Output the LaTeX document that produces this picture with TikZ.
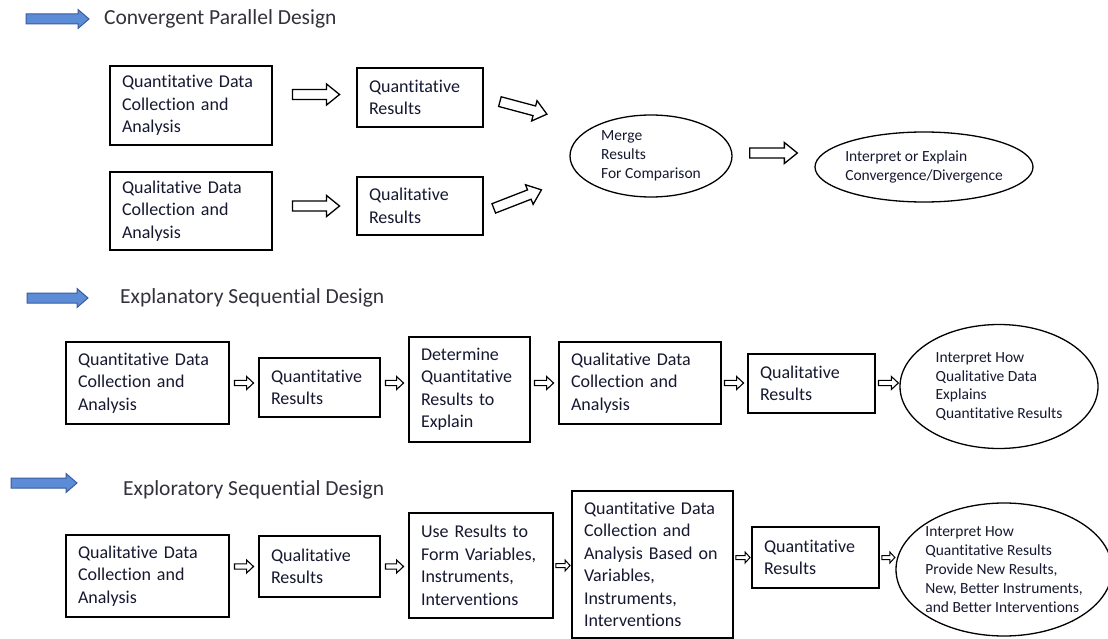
\documentclass[tikz,border=0pt]{standalone}
\usepackage{fontspec}
\setmainfont{Carlito}[Ligatures=NoCommon]
\usetikzlibrary{calc,shapes.geometric}

\definecolor{ink}{RGB}{22,24,48}
\definecolor{headink}{RGB}{50,50,60}
\definecolor{iconfill}{RGB}{92,140,214}
\definecolor{icondraw}{RGB}{58,92,158}

\newcommand{\boxfont}{\fontsize{18}{22.5}\selectfont}
\newcommand{\ovalfont}{\fontsize{15.5}{18.8}\selectfont}
\newcommand{\headfont}{\fontsize{21.5}{26}\selectfont}

\tikzset{
  hgapa/.store in=\hgapa, hgapb/.store in=\hgapb,
  hshaft/.store in=\hshaft, hwing/.store in=\hwing, hhead/.store in=\hhead,
  hgapa=16pt, hgapb=16pt, hshaft=5pt, hwing=10.5pt, hhead=13pt,
  hollow/.style={draw=black, fill=white, line width=1.3pt, line join=miter,
    to path={coordinate (hs0) (\tikztotarget) coordinate (ht0)
      ($(hs0)!\hgapa!(ht0)$) coordinate (hs)
      ($(ht0)!\hgapb!(hs0)$) coordinate (ht)
      ($(ht)!\hhead!(hs)$) coordinate (hn)
      ($(hs)!\hshaft!90:(ht)$) -- ($(hn)!\hshaft!90:(ht)$) -- ($(hn)!\hwing!90:(ht)$) -- (ht)
      -- ($(hn)!\hwing!-90:(ht)$) -- ($(hn)!\hshaft!-90:(ht)$) -- ($(hs)!\hshaft!-90:(ht)$) -- cycle}},
  smallarrow/.style={hollow, line width=1.1pt, hgapa=4pt, hgapb=4pt, hshaft=2.6pt, hwing=6.5pt, hhead=7pt},
  thinarrow/.style={hollow, line width=1pt, hgapa=1.5pt, hgapb=0.5pt, hshaft=2pt, hwing=5.5pt, hhead=5pt},
  iconarrow/.style={hollow, draw=icondraw, fill=iconfill, line width=1pt, hgapa=0pt, hgapb=0pt, hshaft=5pt, hwing=9.5pt, hhead=11pt},
  boxsize/.code 2 args={\pgfmathsetlengthmacro\boxtw{#1-24pt}%
    \pgfkeysalso{minimum width=#1, minimum height=#2, text width/.expanded=\boxtw}},
  stepbox/.style={draw=black, line width=2.9pt, rectangle, inner xsep=12pt, inner ysep=0pt, align=left, text=ink, font=\boxfont},
  oval/.style={ellipse, draw=black, line width=1.3pt, inner sep=0pt, align=left, text=ink, font=\ovalfont},
  headtext/.style={anchor=west, inner sep=0pt, text=headink, font=\headfont}
}

\begin{document}
\begin{tikzpicture}[x=1pt,y=1pt,yscale=-1,xscale=1]
\path[use as bounding box, fill=white] (0,0) rectangle (1108,639);

% Convergent Parallel Design
%Shape: Right Arrow
\draw[iconarrow] (26,19) to (89,19);
% Text Node
\draw (104,19) node [headtext] (h1) {Convergent Parallel Design};
%Shape: Rectangle
\draw (191,105.5) node [stepbox, boxsize={162pt}{79pt}] (a1) {Quantitative Data\\Collection and\\Analysis};
%Shape: Rectangle
\draw (191,211) node [stepbox, boxsize={162pt}{78pt}] (b1) {Qualitative Data\\Collection and\\Analysis};
%Shape: Rectangle
\draw (420,97.5) node [stepbox, boxsize={126pt}{59pt}] (a2) {Quantitative\\Results};
%Shape: Rectangle
\draw (420,206) node [stepbox, boxsize={126pt}{58pt}] (b2) {Qualitative\\Results};
%Shape: Ellipse
\draw (651,156) node [oval, minimum width=162pt, minimum height=82pt] (merge) {Merge\\Results\\For Comparison};
%Shape: Ellipse
\draw (924,167) node [oval, minimum width=218pt, minimum height=70pt, inner xsep=-8pt] (interp) {Interpret or Explain\\Convergence/Divergence};
%Right Arrows
\draw[hollow, hgapa=19pt] ($(a1.east |- a2.west)+(0,-3)$) to ($(a2.west)+(0,-3)$);
\draw[hollow, hgapa=19pt] (b1.east |- b2.west) to (b2.west);
\draw[hollow, hgapa=16pt, hgapb=48pt] (a2.east) to (merge.north west);
\draw[hollow, hgapa=10pt, hgapb=40pt] ($(b2.east)+(0,6)$) to (merge.195);
\draw[hollow, hgapa=17pt, hgapb=17pt] ($(merge.east)+(0,-3)$) to ($(merge.east -| interp.west)+(0,-3)$);

% Explanatory Sequential Design
%Shape: Right Arrow
\draw[iconarrow] (27,298) to (88,298);
% Text Node
\draw (120,298) node [headtext] (h2) {Explanatory Sequential Design};
%Shape: Rectangle
\draw (147.5,383) node [stepbox, boxsize={163pt}{82pt}] (c1) {Quantitative Data\\Collection and\\Analysis};
%Shape: Rectangle
\draw (319.5,387.5) node [stepbox, boxsize={121pt}{59pt}] (c2) {Quantitative\\Results};
%Shape: Rectangle
\draw (469.5,389.5) node [stepbox, boxsize={121pt}{105pt}] (c3) {Determine\\Quantitative\\Results to\\Explain};
%Shape: Rectangle
\draw (640,383) node [stepbox, boxsize={162pt}{82pt}] (c4) {Qualitative Data\\Collection and\\Analysis};
%Shape: Rectangle
\draw (811.5,383.5) node [stepbox, boxsize={127pt}{59pt}] (c5) {Qualitative\\Results};
%Shape: Ellipse
\draw (999,386.5) node [oval, minimum width=198pt, minimum height=124pt] (c6) {Interpret How\\Qualitative Data\\Explains\\Quantitative Results};
%Right Arrows
\draw[smallarrow] (c1.east) to (c1.east -| c2.west);
\draw[smallarrow] (c2.east |- c1.east) to (c1.east -| c3.west);
\draw[smallarrow, hgapa=3pt] (c3.east |- c1.east) to (c4.west);
\draw[smallarrow, hgapa=2pt, hgapb=3pt] (c4.east) to (c4.east -| c5.west);
\draw[smallarrow, hgapa=2pt, hgapb=1pt] (c5.east |- c1.east) to (c1.east -| c6.west);

% Exploratory Sequential Design
%Shape: Right Arrow
\draw[iconarrow] (11,483) to (77,483);
% Text Node
\draw (123,490) node [headtext] (h3) {Exploratory Sequential Design};
%Shape: Rectangle
\draw (147.5,576) node [stepbox, boxsize={163pt}{82pt}] (d1) {Qualitative Data\\Collection and\\Analysis};
%Shape: Rectangle
\draw (319.5,566.5) node [stepbox, boxsize={121pt}{61pt}] (d2) {Qualitative\\Results};
%Shape: Rectangle
\draw (481,565.5) node [stepbox, boxsize={144pt}{105pt}] (d3) {Use Results to\\Form Variables,\\Instruments,\\Interventions};
%Shape: Rectangle
\draw (652.5,564.5) node [stepbox, boxsize={161pt}{147pt}] (d4) {Quantitative Data\\Collection and\\Analysis Based on\\Variables,\\Instruments,\\Interventions};
%Shape: Rectangle
\draw (815.5,557.5) node [stepbox, boxsize={127pt}{61pt}] (d5) {Quantitative\\Results};
%Shape: Ellipse
\draw (1004,569.5) node [oval, minimum width=216pt, minimum height=133pt, inner xsep=-8pt, inner ysep=-2pt] (d6) {Interpret How\\Quantitative Results\\Provide New Results,\\New, Better Instruments,\\and Better Interventions};
%Right Arrows
\draw[smallarrow] (d1.east |- d2.west) to (d2.west);
\draw[smallarrow] (d2.east) to (d2.east -| d3.west);
\draw[thinarrow] (d3.east) to (d3.east -| d4.west);
\draw[thinarrow] (d4.east |- d5.west) to (d5.west);
\draw[thinarrow] (d5.east) to (d5.east -| d6.west);

\end{tikzpicture}
\end{document}
